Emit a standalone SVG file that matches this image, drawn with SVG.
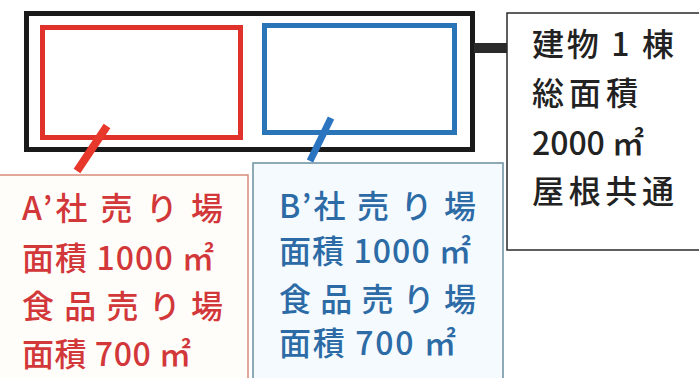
<svg xmlns="http://www.w3.org/2000/svg" width="699" height="378" viewBox="0 0 699 378">
<style>
.bg{fill:#ffffff}
.lbl{font-family:"Noto Sans CJK JP","Noto Sans",sans-serif;font-size:32px;font-weight:500}
.red{fill:#d2373a}
.blue{fill:#2c6ba6}
.blk{fill:#222222}
</style>
<rect class="bg" x="0" y="0" width="699" height="378"/>
<g id="building">
  <rect x="26.5" y="13.5" width="446" height="136" fill="#ffffff" stroke="#1a1a1a" stroke-width="5"/>
</g>
<g id="areaA">
  <rect x="42.5" y="27.5" width="198" height="110" fill="#ffffff" stroke="#e0312b" stroke-width="5"/>
</g>
<g id="areaB">
  <rect x="264.5" y="25.5" width="190" height="107" fill="#ffffff" stroke="#2a74b8" stroke-width="5"/>
</g>
<g id="connectors">
  <rect x="474" y="43" width="34" height="10" fill="#2a2a2a"/>
  <line x1="77" y1="171" x2="107" y2="126" stroke="#e8382c" stroke-width="8"/>
  <line x1="310" y1="161" x2="331" y2="118" stroke="#2a74c0" stroke-width="7"/>
</g>
<g id="info">
  <rect x="507" y="13" width="220" height="237" fill="#ffffff" stroke="#2a2a2a" stroke-width="1.5"/>
  <text class="lbl blk" x="532" y="56" textLength="142" lengthAdjust="spacing">建物 1 棟</text>
  <text class="lbl blk" x="532" y="105" textLength="106" lengthAdjust="spacing">総面積</text>
  <text class="lbl blk" x="532" y="155" textLength="112" lengthAdjust="spacing">2000 ㎡</text>
  <text class="lbl blk" x="532" y="203" textLength="142" lengthAdjust="spacing">屋根共通</text>
</g>
<g id="shopA">
  <rect x="-10" y="175" width="258" height="220" fill="#fffdf9" stroke="#d88a7a" stroke-width="1.5"/>
  <text class="lbl red" x="22" y="220" textLength="201" lengthAdjust="spacing">A’社 売 り 場</text>
  <text class="lbl red" x="22" y="270" textLength="192" lengthAdjust="spacing">面積 1000 ㎡</text>
  <text class="lbl red" x="22" y="318" textLength="201" lengthAdjust="spacing">食 品 売 り 場</text>
  <text class="lbl red" x="22" y="366" textLength="169" lengthAdjust="spacing">面積 700 ㎡</text>
</g>
<g id="shopB">
  <rect x="253" y="163" width="250" height="230" fill="#f4fafd" stroke="#6a8ea0" stroke-width="1.5"/>
  <text class="lbl blue" x="279" y="218" textLength="197" lengthAdjust="spacing">B’社 売 り 場</text>
  <text class="lbl blue" x="279" y="263" textLength="192" lengthAdjust="spacing">面積 1000 ㎡</text>
  <text class="lbl blue" x="279" y="311" textLength="197" lengthAdjust="spacing">食 品 売 り 場</text>
  <text class="lbl blue" x="279" y="355" textLength="177" lengthAdjust="spacing">面積 700 ㎡</text>
</g>
</svg>
